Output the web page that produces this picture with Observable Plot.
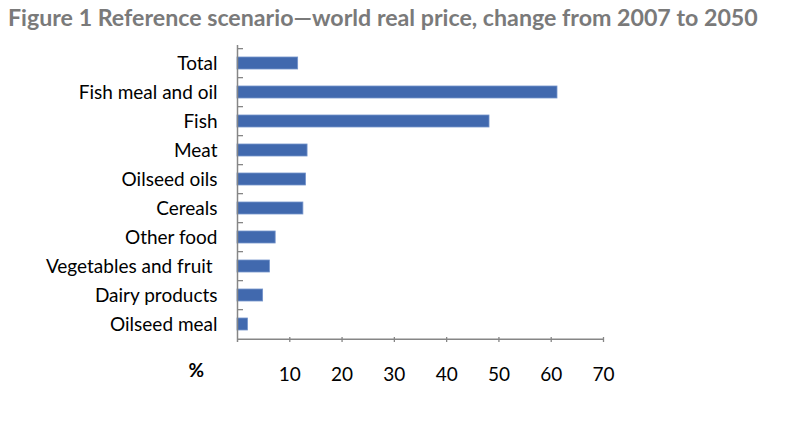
<!DOCTYPE html>
<html><head><meta charset="utf-8">
<script src="https://cdn.jsdelivr.net/npm/d3@7"></script>
<script src="https://cdn.jsdelivr.net/npm/@observablehq/plot@0.6"></script>
<style>
body{margin:0;background:#fff;font-family:Lato,"Open Sans",sans-serif;}
#title{height:36px;box-sizing:border-box;padding:3px 0 0 8px;font-weight:bold;font-size:23.2px;line-height:28px;color:#7a7a7a;white-space:nowrap;}
</style></head><body>
<div id="title">Figure 1 Reference scenario—world real price, change from 2007 to 2050</div>
<div id="chart"></div>
<script>
const categories = ["Total","Fish meal and oil","Fish","Meat","Oilseed oils","Cereals","Other food","Vegetables and fruit ","Dairy products","Oilseed meal"];
const values = [11.6, 61.2, 48.2, 13.4, 13.1, 12.6, 7.3, 6.2, 4.9, 2.0];
const xTicks = [10,20,30,40,50,60,70];
const data = categories.map((c,i)=>({category:c,value:values[i]}));
const W=786, H=355, ML=237, MR=183, MT=9, MB=49;
const step = (H-MT-MB)/categories.length;
const axisColor = "#868686";
const plot = Plot.plot({
  width:W, height:H, marginLeft:ML, marginRight:MR, marginTop:MT, marginBottom:MB,
  style:{fontFamily:"Lato, 'Open Sans', sans-serif", fontSize:"19px", color:"#000", background:"#fff"},
  x:{domain:[0,70]},
  y:{domain:categories, paddingInner:0.58, paddingOuter:0.29},
  marks:[
    Plot.barX(data,{x:"value",y:"category",fill:"#4169ae",stroke:"#7393cb",strokeWidth:0.8}),
    Plot.ruleY(categories,{y:d=>d,dy:-step/2,insetRight:W-ML-MR-6,stroke:axisColor,strokeWidth:1.3}),
    Plot.ruleY([categories[categories.length-1]],{y:d=>d,dy:step/2,stroke:axisColor,strokeWidth:1.5}),
    Plot.ruleX([0],{stroke:axisColor,strokeWidth:1.5}),
    Plot.ruleX(xTicks,{x:d=>d,insetTop:H-MT-MB-5,stroke:axisColor,strokeWidth:1.3}),
    Plot.axisY({tickSize:0,tickPadding:20,fontSize:19,label:null}),
    Plot.axisX({ticks:xTicks,tickSize:0,tickPadding:25,fontSize:19,label:null}),
    Plot.text(["%"],{frameAnchor:"bottom-left",dx:-49,dy:34,fontWeight:"bold",fontSize:19,text:d=>d})
  ]
});
document.getElementById("chart").appendChild(plot);
</script>
</body></html>
